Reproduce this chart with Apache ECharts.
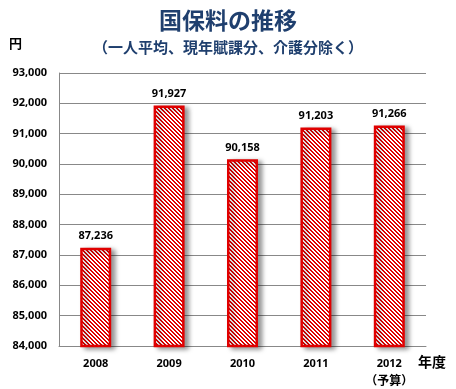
<!DOCTYPE html>
<html><head><meta charset="utf-8">
<script src="https://cdn.jsdelivr.net/npm/echarts@6/dist/echarts.min.js"></script>
<style>html,body{margin:0;padding:0;background:#fff}#c{width:456px;height:389px}</style>
</head><body><div id="c"></div>
<script>
const categories = ['2008', '2009', '2010', '2011', '2012\n（予算）'];
const values = [87236, 91927, 90158, 91203, 91266];
const yTicks = { min: 84000, max: 93000, interval: 1000 };
const titleText = '国保料の推移';
const subtitleText = '（一人平均、現年賦課分、介護分除く）';
const yUnit = '円';
const xUnit = '年度';

function hatch() {
  const n = 4;
  const c = document.createElement('canvas');
  c.width = n; c.height = n;
  const ctx = c.getContext('2d');
  const img = ctx.createImageData(n, n);
  for (let y = 0; y < n; y++) for (let x = 0; x < n; x++) {
    const red = ((x - y + 8) % n) < 2;
    const i = (y * n + x) * 4;
    if (red) { img.data[i] = 225; img.data[i+1] = 0; img.data[i+2] = 0; }
    else { img.data[i] = 255; img.data[i+1] = 255; img.data[i+2] = 255; }
    img.data[i+3] = 255;
  }
  ctx.putImageData(img, 0, 0);
  return c;
}

const chart = echarts.init(document.getElementById('c'), null, { renderer: 'canvas' });
const blue = '#1f3f6e';
chart.setOption({
  animation: false,
  title: [
    { text: titleText, left: 'center', top: 4, textStyle: { fontFamily: 'Noto Sans CJK JP', fontWeight: 'bold', fontSize: 23, color: blue } },
    { text: subtitleText, left: 'center', top: 35, textStyle: { fontFamily: 'Noto Sans CJK JP', fontWeight: 'bold', fontSize: 15, color: blue } }
  ],
  graphic: [
    { type: 'text', left: 9, top: 37, style: { text: yUnit, font: 'bold 13px "Noto Sans CJK JP"', fill: '#000' } },
    { type: 'text', left: 418, top: 355, style: { text: xUnit, font: 'bold 14px "Noto Sans CJK JP"', fill: '#000' } }
  ],
  grid: { left: 59, right: 30, top: 73, bottom: 40 },
  xAxis: {
    type: 'category', data: categories,
    axisLine: { lineStyle: { color: '#888', width: 1 } },
    axisTick: { show: false },
    axisLabel: { interval: 0, color: '#000', fontWeight: 'bold', fontSize: 11, fontFamily: 'Noto Sans', margin: 9, lineHeight: 17,
      formatter: v => { const p = v.split('\n'); return p.length > 1 ? p[0] + '\n{b|' + p[1] + '}' : v; },
      rich: { b: { fontSize: 12, fontWeight: 'bold', fontFamily: 'Noto Sans CJK JP', color: '#000', lineHeight: 17 } } }
  },
  yAxis: {
    type: 'value', min: yTicks.min, max: yTicks.max, interval: yTicks.interval,
    axisLine: { show: true, lineStyle: { color: '#888' } },
    axisTick: { show: false },
    splitLine: { lineStyle: { color: '#888', width: 1 } },
    axisLabel: { color: '#000', fontWeight: 'bold', fontSize: 11, fontFamily: 'Noto Sans', margin: 12,
      formatter: v => v.toLocaleString('en-US') }
  },
  series: [{
    type: 'bar', data: values, barWidth: 31,
    itemStyle: {
      color: { image: hatch(), repeat: 'repeat' },
      borderColor: '#e00000', borderWidth: 2.5,
      shadowColor: 'rgba(0,0,0,0.4)', shadowBlur: 5, shadowOffsetX: 4, shadowOffsetY: 2
    },
    label: { show: true, position: 'top', distance: 6, color: '#000', fontWeight: 'bold', fontSize: 11, fontFamily: 'Noto Sans',
      formatter: p => p.value.toLocaleString('en-US') }
  }]
});
</script></body></html>
